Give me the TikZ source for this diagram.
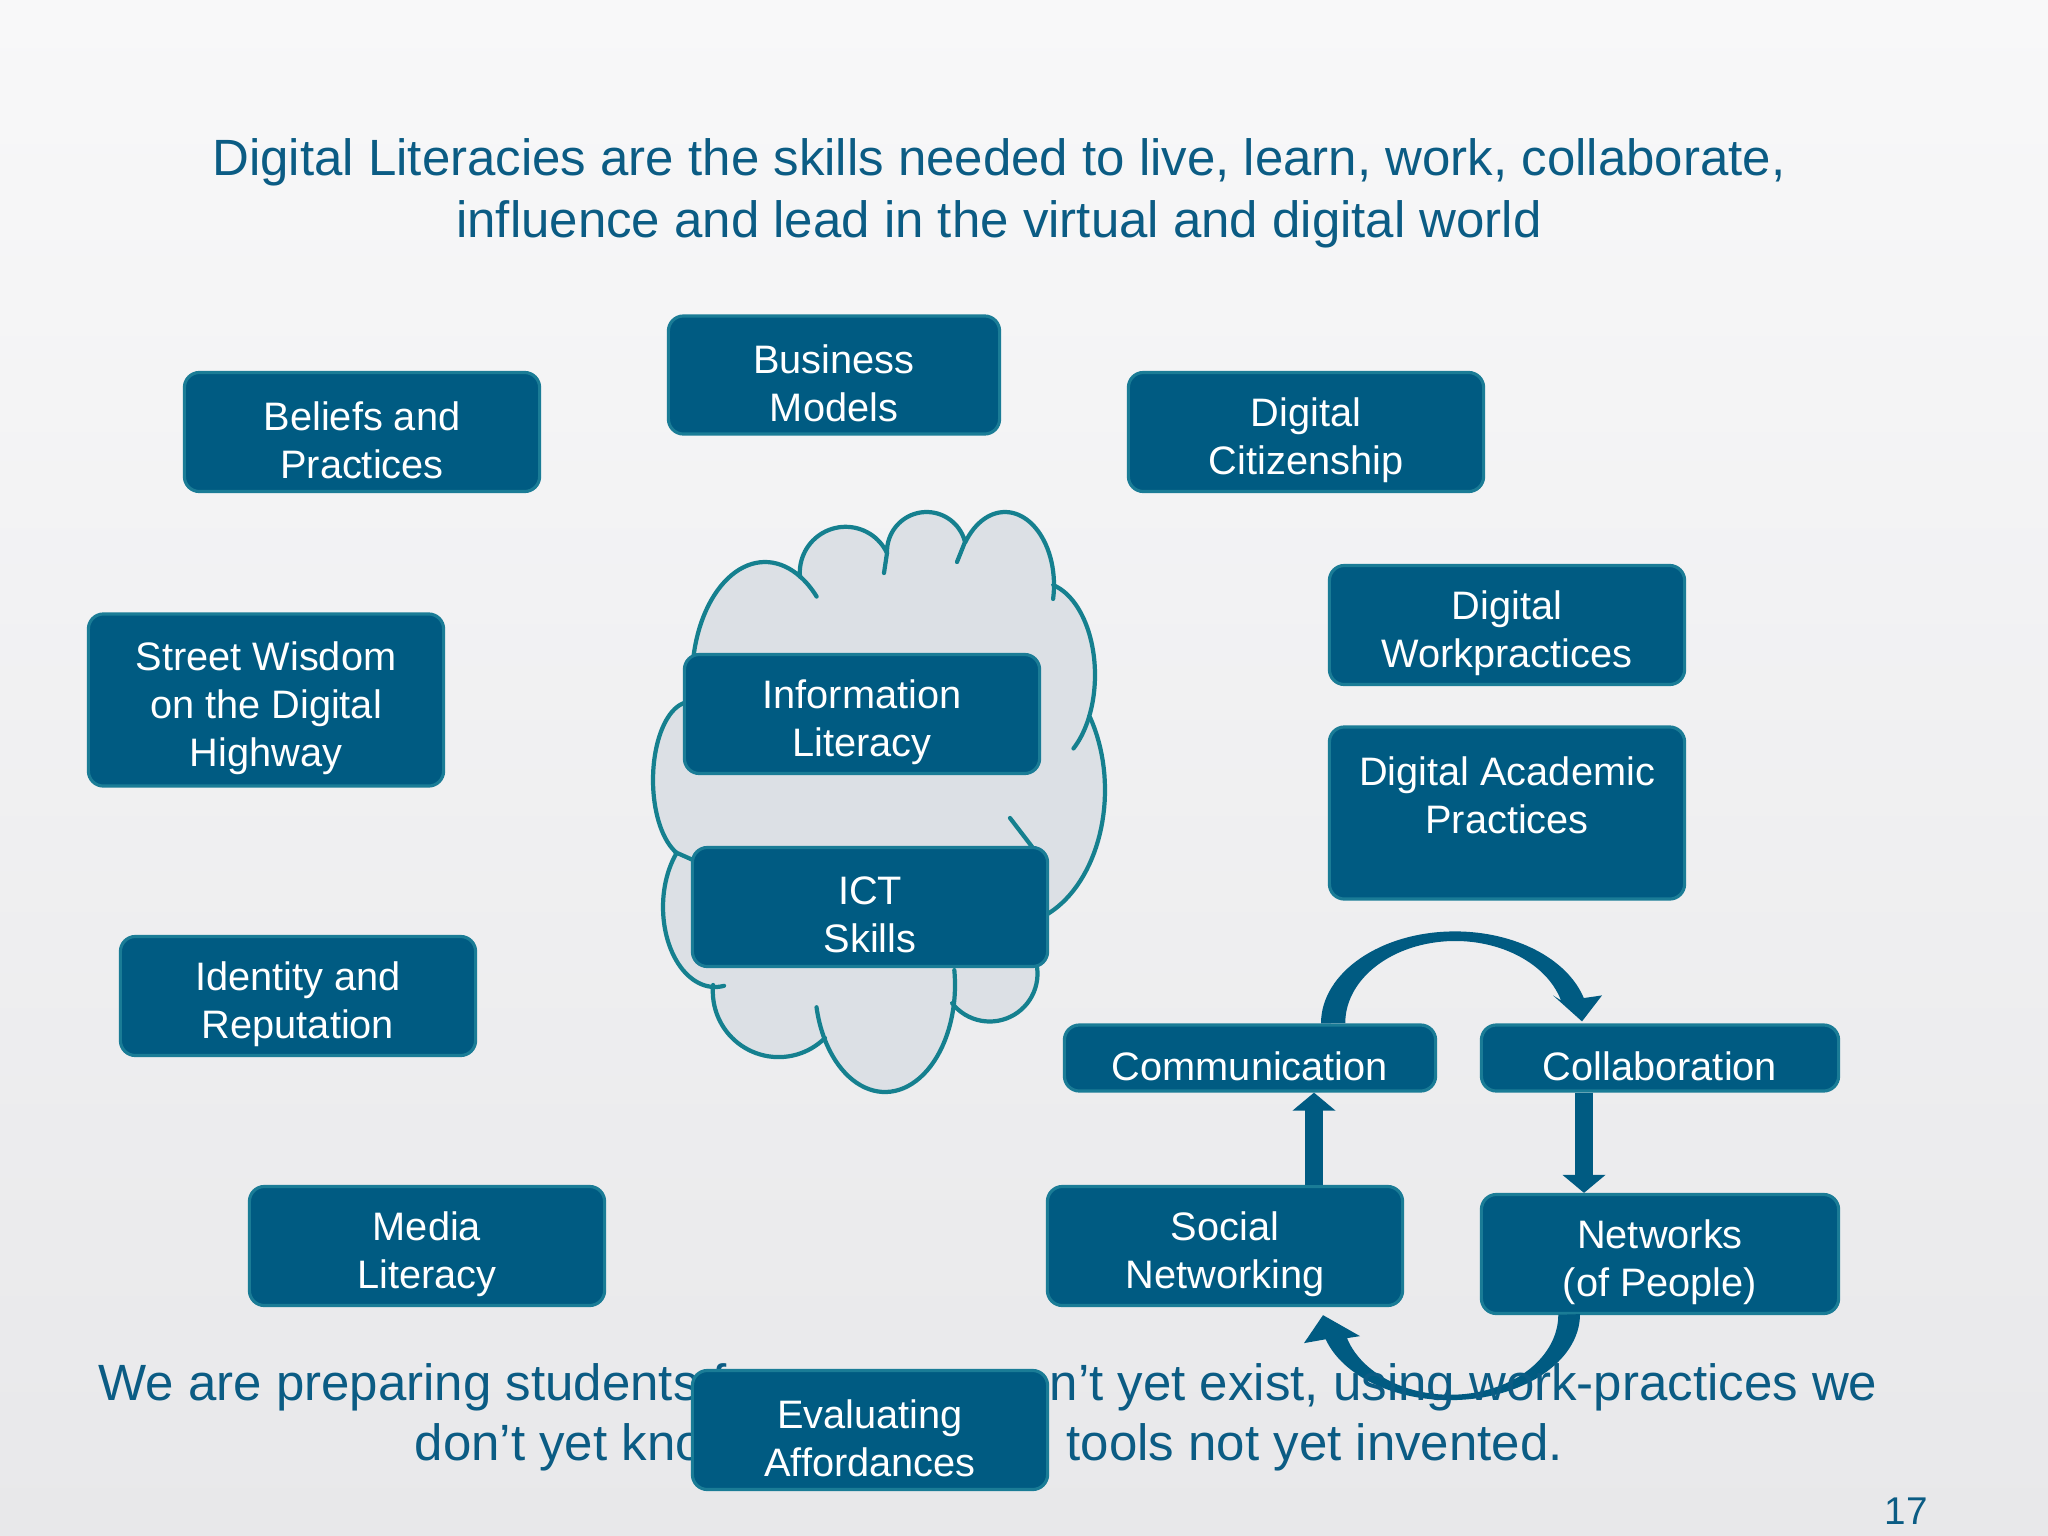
\documentclass[tikz,border=0pt]{standalone}
\usepackage{fontspec}
\setmainfont{Liberation Sans}
\usetikzlibrary{arrows.meta,calc}
\definecolor{boxfill}{HTML}{005B82}
\definecolor{boxline}{HTML}{1A7C96}
\definecolor{cloudfill}{HTML}{DCE0E5}
\definecolor{cloudline}{HTML}{15808F}
\definecolor{titlecol}{HTML}{0B5C84}
\definecolor{bgtop}{HTML}{F8F8F9}
\definecolor{bgbot}{HTML}{E8E8EA}
\newcommand{\tbox}[4][]{%
  \node[bx,#1] (#2) at (#3) {};
  \node[boxtext] (#2-text) at ($(#2.center)+(0,8)$) {#4};}
\begin{document}
\begin{tikzpicture}[x=0.01cm,y=-0.01cm,
  bx/.style={draw=boxline, line width=0.9pt, fill=boxfill, rounded corners=0.15cm,
    inner sep=0pt, minimum width=3.55cm, minimum height=1.19cm},
  boxtext/.style={text=white, align=center, font=\fontsize{11.3}{13.7}\selectfont, inner sep=0pt},
  bigtext/.style={text=titlecol, font=\fontsize{14.5}{17.5}\selectfont, inner sep=0pt},
  sarrow/.style={draw=boxfill, line width=0.18cm, line cap=butt, -{Triangle[width=0.42cm,length=0.18cm]}},
  cl/.style={draw=cloudline, line width=1.2pt, line cap=round},
  pl/.style={samples=40, variable=\t}]
\useasboundingbox (0,0) rectangle (2048,1536);
\shade[top color=bgtop, bottom color=bgbot] (0,0) rectangle (2048,1536);

% cloud outline: union of elliptical bumps
\filldraw[fill=cloudfill, cl, line join=round]
 plot[pl, domain=170:299] ({765+73*cos(\t)}, {680+118*sin(\t)})
 -- plot[pl, domain=174.7:334.7] ({845.6+45.8*cos(\t)}, {572.6+45.8*sin(\t)})
 -- plot[pl, domain=178:346] ({926.6+39.6*cos(\t)}, {551.6+39.6*sin(\t)})
 -- plot[pl, domain=215.8:360] ({1005+49*cos(\t)}, {585+73*sin(\t)})
 -- plot[pl, domain=283.7:386.5] ({1040+55*cos(\t)}, {675+92.6*sin(\t)})
 -- plot[pl, domain=327.3:440] ({1010+95*cos(\t)}, {790+135*sin(\t)})
 -- plot[pl, domain=300:502] ({989.7+47.8*cos(\t)}, {973.7+47.8*sin(\t)})
 -- plot[pl, domain=9.7:150] ({885+70*cos(\t)}, {985+107*sin(\t)})
 -- plot[pl, domain=45.2:185.5] ({778.6+65.8*cos(\t)}, {991.3+65.8*sin(\t)})
 -- plot[pl, domain=92:221.8] ({715+52*cos(\t)}, {907+80*sin(\t)})
 -- plot[pl, domain=112.6:265] ({690+37*cos(\t)}, {780+78*sin(\t)})
 -- cycle;
% inner arcs of the cloud
\draw[cl] plot[pl, domain=299:315] ({765+73*cos(\t)}, {680+118*sin(\t)});
\draw[cl] (887,553) -- (884,573);
\draw[cl] (965,542) -- (957,562);
\draw[cl] plot[pl, domain=360:371] ({1005+49*cos(\t)}, {585+73*sin(\t)});
\draw[cl] plot[pl, domain=386.5:412.5] ({1040+55*cos(\t)}, {675+92.6*sin(\t)});
\draw[cl] (1010,818) -- (1033,848);
\draw[cl] plot[pl, domain=-8:9.7] ({885+70*cos(\t)}, {985+107*sin(\t)});
\draw[cl] plot[pl, domain=150:168] ({885+70*cos(\t)}, {985+107*sin(\t)});
\draw[cl] plot[pl, domain=80:92] ({715+52*cos(\t)}, {907+80*sin(\t)});
\draw[cl] (675,852) -- (693,860);

% boxes
\tbox{beliefs}{362,432}{Beliefs and\\Practices}
\tbox[minimum width=3.31cm, minimum height=1.18cm]{business}{834,375}{Business\\Models}
\tbox{citizen}{1306,432}{Digital\\Citizenship}
\tbox[minimum height=1.72cm]{street}{266,700}{Street Wisdom\\on the Digital\\Highway}
\tbox{info}{862,714}{Information\\Literacy}
\tbox{workp}{1507,625}{Digital\\Workpractices}
\node[bx, minimum height=1.72cm] (academic) at (1507,813) {};
\node[boxtext] (academic-text) at ($(academic.center)+(0,-18)$) {Digital Academic\\Practices};
\tbox{ict}{870,907}{ICT\\Skills}
\tbox{identity}{298,996}{Identity and\\Reputation}
\tbox[minimum width=3.71cm, minimum height=0.66cm]{comm}{1250,1058}{Communication}
\tbox[minimum width=3.57cm, minimum height=0.66cm]{collab}{1660,1058}{Collaboration}
\tbox{media}{427,1246}{Media\\Literacy}
\tbox{social}{1225,1246}{Social\\Networking}
\tbox[minimum width=3.57cm]{networks}{1660,1254}{Networks\\(of People)}

% straight arrows
\coordinate (upx) at (1314,0);
\coordinate (dnx) at (1584,0);
\draw[sarrow] (social.north -| upx) -- (comm.south -| upx);
\draw[sarrow] (collab.south -| dnx) -- (networks.north -| dnx);

% curved arrow: Communication -> Collaboration
\fill[boxfill] ($(comm.north)+(71,0)$)
  arc[start angle=180, end angle=344, x radius=134, y radius=92]
  -- ($(collab.north)+(-58,-28)$) -- ($(collab.north)+(-78,-2)$) -- ($(collab.north)+(-107,-28)$)
  -- ($(collab.north)+(-99,-23)$)
  arc[start angle=344, end angle=180, x radius=110, y radius=82] -- cycle;

% curved arrow: Networks -> Social Networking
\fill[boxfill] ($(networks.south)+(-80,-1)$)
  arc[start angle=0, end angle=163, x radius=130, y radius=86]
  -- ($(social.south)+(79,36)$) -- ($(social.south)+(98,8)$) -- ($(social.south)+(135,29)$)
  -- ($(social.south)+(122,31)$)
  arc[start angle=163, end angle=0, x radius=108, y radius=80] -- cycle;

% title
\node[bigtext, anchor=base] (title1) at (999,175) {Digital Literacies are the skills needed to live, learn, work, collaborate,};
\node[bigtext, anchor=base] (title2) at (999,237) {influence and lead in the virtual and digital world};

% bottom text
\node[bigtext, anchor=base west] (b1l) at (98,1400) {We are preparing students f};
\node[bigtext, anchor=base east] (b1r) at (1878,1400) {n’t yet exist, using work-practices we};
\node[bigtext, anchor=base west] (b2l) at (414,1460) {don’t yet kno};
\node[bigtext, anchor=base west] (b2r) at (1066,1460) {tools not yet invented.};

\tbox{evaluating}{870,1430}{Evaluating\\Affordances}

\node[text=titlecol, font=\fontsize{11}{13}\selectfont, anchor=base, inner sep=0pt] (pagenum) at (1906,1524) {17};
\end{tikzpicture}
\end{document}
